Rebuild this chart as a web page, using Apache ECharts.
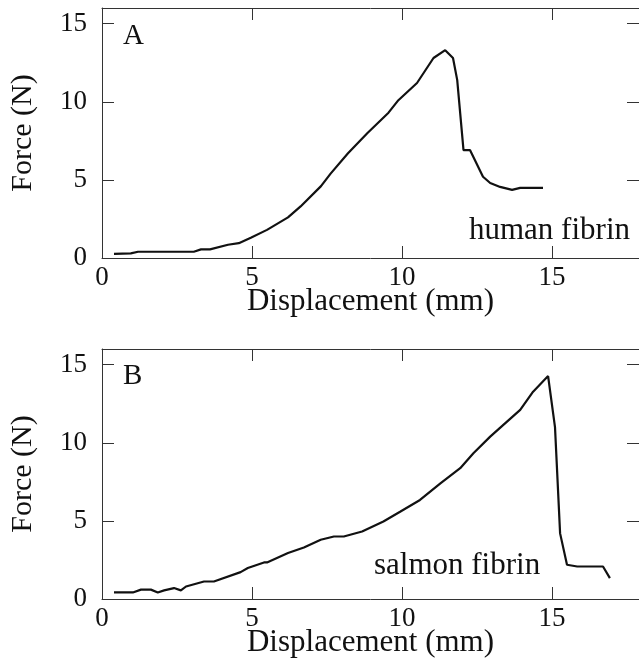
<!DOCTYPE html>
<html>
<head>
<meta charset="utf-8">
<script src="https://cdn.jsdelivr.net/npm/echarts@6/dist/echarts.min.js"></script>
<style>
html,body{margin:0;padding:0;background:#fff;}
#main{width:639px;height:662px;}
</style>
</head>
<body>
<div id="main"></div>
<script>
// panel A : human fibrin (displacement mm, force N)
var humanX = [0.4, 0.96, 1.2, 3.06, 3.3, 3.6, 4.2, 4.56, 4.96, 5.5, 6.2, 6.62, 7.3, 7.62, 8.2, 8.85, 9.55, 9.88, 10.5, 11.05, 11.44, 11.7, 11.84, 12.05, 12.27, 12.7, 12.94, 13.27, 13.67, 13.94, 14.7];
var humanY = [0.26, 0.3, 0.4, 0.4, 0.55, 0.55, 0.85, 0.95, 1.3, 1.8, 2.6, 3.3, 4.6, 5.4, 6.7, 8.0, 9.3, 10.1, 11.2, 12.8, 13.3, 12.8, 11.4, 6.9, 6.9, 5.2, 4.8, 4.55, 4.36, 4.49, 4.49];
// panel B : salmon fibrin
var salmonX = [0.4, 1.03, 1.3, 1.63, 1.86, 2.07, 2.4, 2.63, 2.8, 3.4, 3.73, 4.62, 4.86, 5.4, 5.5, 6.2, 6.73, 7.29, 7.73, 8.06, 8.67, 9.38, 9.95, 10.6, 11.28, 11.94, 12.38, 12.94, 13.5, 13.94, 14.37, 14.87, 15.1, 15.27, 15.5, 15.84, 16.7, 16.93];
var salmonY = [0.42, 0.42, 0.6, 0.6, 0.42, 0.55, 0.7, 0.55, 0.8, 1.12, 1.12, 1.72, 1.98, 2.34, 2.34, 2.94, 3.3, 3.79, 4.0, 4.0, 4.32, 4.96, 5.6, 6.34, 7.4, 8.37, 9.33, 10.39, 11.35, 12.1, 13.27, 14.27, 11.0, 4.2, 2.19, 2.08, 2.08, 1.34];
var xTicks = [0, 5, 10, 15];
var yTicks = [0, 5, 10, 15];

function pairs(xs, ys){
    var out=[];
    for(var i=0;i<xs.length;i++){ out.push([xs[i], ys[i]]); }
    return out;
}

var serif = 'Liberation Serif';
var frame = '#333';

function xAxes(g){
    return [
        {
            gridIndex:g, type:'value', min:0, max:17.9, interval:5,
            name:'Displacement (mm)', nameLocation:'middle', nameGap:28, nameMoveOverlap:false,
            nameTextStyle:{fontFamily:serif, fontSize:31, color:'#111'},
            axisLine:{onZero:false, lineStyle:{color:frame, width:1}},
            axisTick:{inside:true, length:12, lineStyle:{color:frame}},
            axisLabel:{fontFamily:serif, fontSize:27, color:'#111', margin:6, showMaxLabel:false,
                formatter:function(v){ return xTicks.indexOf(v)>=0 ? String(v) : ''; }},
            splitLine:{show:false}
        },
        {
            gridIndex:g, type:'value', min:0, max:17.9, interval:5, position:'top',
            axisLine:{onZero:false, lineStyle:{color:frame, width:1}},
            axisTick:{inside:true, length:12, lineStyle:{color:frame}},
            axisLabel:{show:false}, splitLine:{show:false}
        }
    ];
}
function yAxes(g){
    return [
        {
            gridIndex:g, type:'value', min:0, max:16, interval:5,
            name:'Force (N)', nameLocation:'middle', nameGap:64, nameMoveOverlap:false,
            nameTextStyle:{fontFamily:serif, fontSize:30, color:'#111'},
            axisLine:{onZero:false, lineStyle:{color:frame, width:1}},
            axisTick:{inside:true, length:12, lineStyle:{color:frame}},
            axisLabel:{fontFamily:serif, fontSize:27, color:'#111', margin:15, showMaxLabel:false,
                formatter:function(v){ return yTicks.indexOf(v)>=0 ? String(v) : ''; }},
            splitLine:{show:false}
        },
        {
            gridIndex:g, type:'value', min:0, max:16, interval:5, position:'right',
            axisLine:{onZero:false, show:false},
            axisTick:{show:true, inside:true, length:12, lineStyle:{color:frame}},
            axisLabel:{show:false}, splitLine:{show:false}
        }
    ];
}

var myChart = echarts.init(document.getElementById('main'));
var option = {
    backgroundColor:'#fff',
    animation:false,
    grid:[
        {left:101, top:8, width:538, height:250},
        {left:101, top:349, width:538, height:250}
    ],
    xAxis: xAxes(0).concat(xAxes(1)),
    yAxis: yAxes(0).concat(yAxes(1)),
    series:[
        {
            name:'human fibrin', type:'line', xAxisIndex:0, yAxisIndex:0,
            data:pairs(humanX, humanY), showSymbol:false,
            lineStyle:{color:'#111', width:2.2}
        },
        {
            name:'salmon fibrin', type:'line', xAxisIndex:2, yAxisIndex:2,
            data:pairs(salmonX, salmonY), showSymbol:false,
            lineStyle:{color:'#111', width:2.2}
        }
    ],
    graphic:[
        {type:'text', left:123, top:22, style:{text:'A', font:'29px "Liberation Serif"', fill:'#111'}},
        {type:'text', left:469, top:215, style:{text:'human fibrin', font:'31px "Liberation Serif"', fill:'#111'}},
        {type:'text', left:123, top:362, style:{text:'B', font:'29px "Liberation Serif"', fill:'#111'}},
        {type:'text', left:374, top:550, style:{text:'salmon fibrin', font:'31px "Liberation Serif"', fill:'#111'}}
    ]
};
myChart.setOption(option);
</script>
</body>
</html>
